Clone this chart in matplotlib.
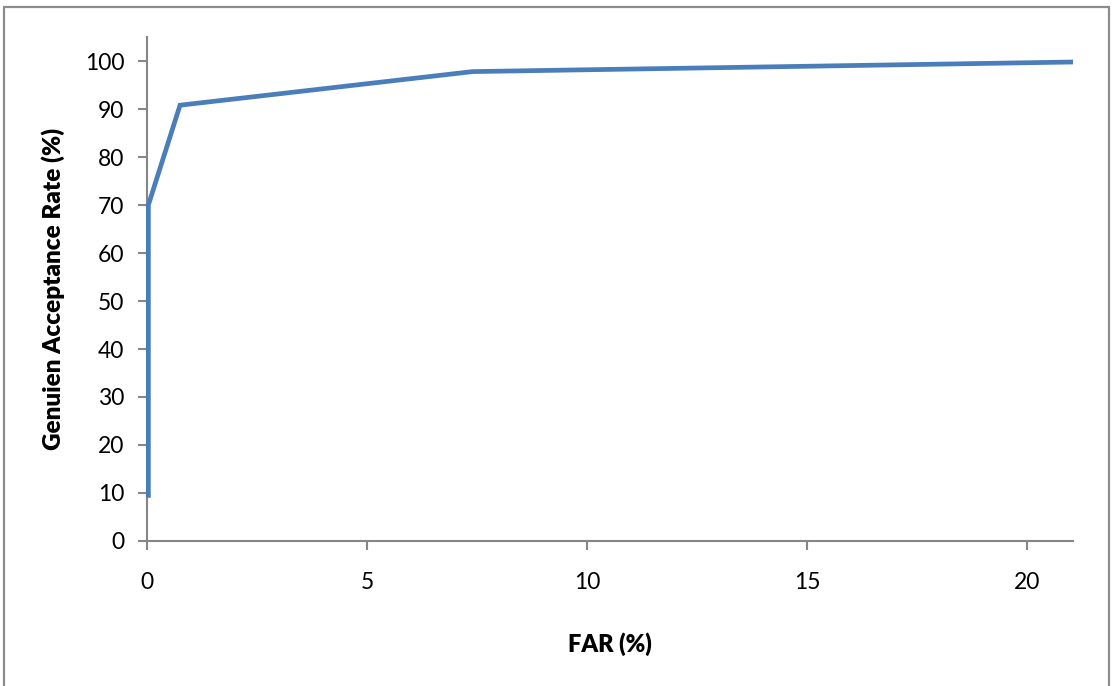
import matplotlib
matplotlib.use("Agg")
import matplotlib.pyplot as plt
from matplotlib.patches import Rectangle

# ROC-style curve: false acceptance rate vs. genuine acceptance rate
far = [0.03, 0.03, 0.75, 7.4, 21.05]
gar = [9.0, 70.0, 90.8, 97.8, 99.8]

x_ticks = [0, 5, 10, 15, 20]
y_ticks = [0, 10, 20, 30, 40, 50, 60, 70, 80, 90, 100]

plt.rcParams['font.family'] = ['Lato', 'DejaVu Sans']

fig = plt.figure(figsize=(11.14, 6.86), dpi=100)
ax = fig.add_axes([0.132, 0.2114, 0.8312, 0.7346])

ax.plot(far, gar, color='#4A7EBB', linewidth=3.4, solid_joinstyle='miter',
        solid_capstyle='butt', clip_on=False, zorder=3)

ax.set_xlim(0, 21.05)
ax.set_ylim(0, 105)
ax.set_xticks(x_ticks)
ax.set_yticks(y_ticks)

spine_col = '#868686'
for side in ('top', 'right'):
    ax.spines[side].set_visible(False)
for side in ('left', 'bottom'):
    ax.spines[side].set_color(spine_col)
    ax.spines[side].set_linewidth(1.5)

ax.tick_params(axis='both', colors=spine_col, labelcolor='black',
               labelsize=16.5, width=1.5, length=6.5, direction='out')
ax.tick_params(axis='x', pad=16)
ax.tick_params(axis='y', pad=10)

ax.set_xlabel('FAR (%)', fontsize=17, fontweight='heavy', labelpad=28)
ax.set_ylabel('Genuien Acceptance Rate (%)', fontsize=17.5, fontweight='heavy',
              labelpad=14)

# chart frame
frame = Rectangle((3.5 / 1114, -0.05), (1109 - 3.5) / 1114, 1.05 - 7.5 / 686,
                  transform=fig.transFigure, fill=False,
                  edgecolor='#8c8c8c', linewidth=1.6, zorder=0)
fig.patches.append(frame)

fig.savefig('out.png', dpi=100, facecolor='white')
